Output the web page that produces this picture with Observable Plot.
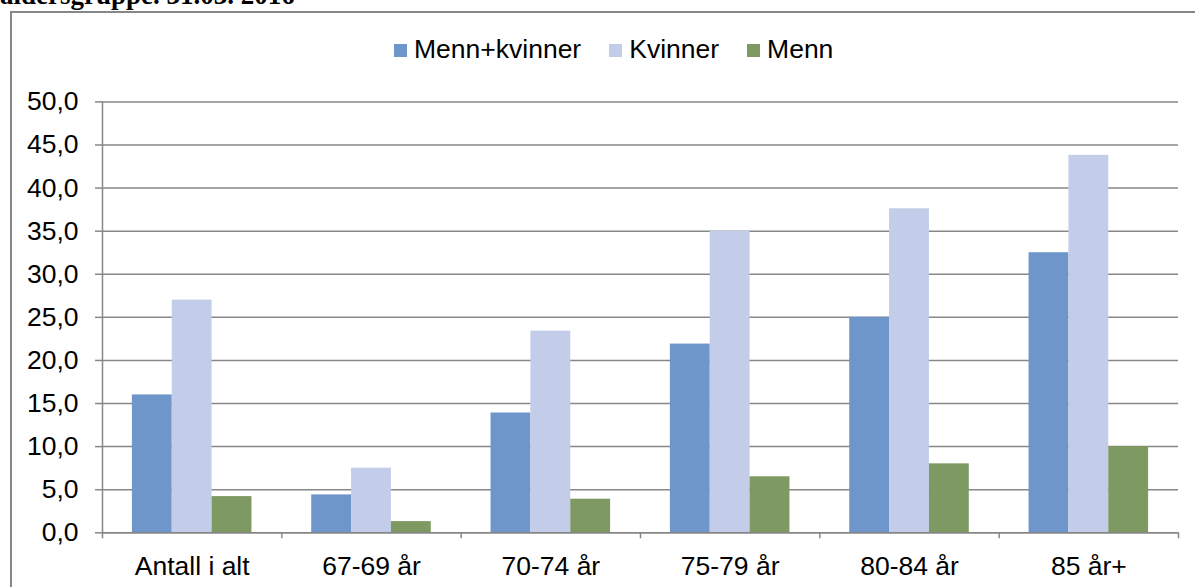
<!DOCTYPE html>
<html>
<head>
<meta charset="utf-8">
<script src="https://cdn.jsdelivr.net/npm/d3@7"></script>
<script src="https://cdn.jsdelivr.net/npm/@observablehq/plot@0.6"></script>
<style>
  html, body { margin: 0; padding: 0; background: #fff; overflow: hidden; }
  #page { position: relative; width: 1195px; height: 587px; overflow: hidden; background: #fff; }
  #title { position: absolute; left: 0; top: -18px; font: bold 27px "Liberation Serif", "Times New Roman", serif; line-height: 27px; color: #000; white-space: nowrap; }
  #frame { position: absolute; left: 10px; top: 11px; width: 1220px; height: 620px; border: 2px solid #878787; box-sizing: border-box; z-index: 3; pointer-events: none; }
  #legend { position: absolute; left: 394px; top: 36px; display: flex; align-items: center; font: 26.5px "Liberation Sans", Arial, sans-serif; line-height: 26.5px; color: #000; z-index: 2; }
  #legend .item { display: flex; align-items: center; margin-right: 28px; }
  #legend .sw { width: 13px; height: 13px; margin-right: 7px; display: inline-block; position: relative; top: 1px; }
  #chart { position: absolute; left: 0; top: 70px; z-index: 1; }
</style>
</head>
<body>
<div id="page">
  <div id="title">aldersgruppe. 31.03. 2016</div>
  <div id="frame"></div>
  <div id="legend"></div>
  <div id="chart"></div>
</div>
<script>
const categories = ["Antall i alt", "67-69 år", "70-74 år", "75-79 år", "80-84 år", "85 år+"];
const seriesNames = ["Menn+kvinner", "Kvinner", "Menn"];
const mennKvinner = [16.0, 4.4, 13.9, 21.9, 25.0, 32.5];
const kvinner = [27.0, 7.5, 23.4, 35.0, 37.6, 43.8];
const menn = [4.2, 1.3, 3.9, 6.5, 8.0, 10.0];
const yTicks = [0, 5, 10, 15, 20, 25, 30, 35, 40, 45, 50];

const colors = ["#6F96CA", "#C3CDE9", "#7E9961"];
const gridColor = "#878787";

// Excel-style clustered layout: gap width 150% of bar width
const barW = 1 / 4.5;
const groupPad = 0.75 / 4.5;

const seriesValues = [mennKvinner, kvinner, menn];
const rows = [];
categories.forEach((cat, ci) => {
  seriesNames.forEach((s, si) => {
    rows.push({cat, ci, series: s, si, value: seriesValues[si][ci]});
  });
});

const fmt = d => d.toFixed(1).replace(".", ",");

const plot = Plot.plot({
  width: 1195,
  height: 517,
  marginLeft: 102,
  marginRight: 17,
  marginTop: 31.4,
  marginBottom: 54.7,
  style: {fontFamily: "'Liberation Sans', Arial, sans-serif", fontSize: "26.5px", color: "#000", background: "transparent"},
  x: {domain: [0, categories.length]},
  y: {domain: [0, 50]},
  color: {domain: seriesNames, range: colors},
  marks: [
    Plot.gridY(yTicks, {stroke: gridColor, strokeOpacity: 1, strokeWidth: 1.5}),
    Plot.rectY(rows, {
      x1: d => d.ci + groupPad + d.si * barW,
      x2: d => d.ci + groupPad + (d.si + 1) * barW,
      y: "value",
      fill: "series"
    }),
    Plot.ruleX([0], {stroke: gridColor, strokeWidth: 1.5}),
    Plot.ruleY([0], {stroke: gridColor, strokeWidth: 1.5}),
    Plot.axisY({ticks: yTicks, tickSize: 7, tickPadding: 17, tickFormat: fmt, stroke: gridColor, strokeWidth: 1.5, fill: "#000", label: null}),
    Plot.axisX({ticks: d3.range(0, categories.length + 1), tickSize: 6, tickFormat: () => "", stroke: gridColor, strokeWidth: 1.5, label: null}),
    Plot.axisX({ticks: categories.map((c, i) => i + 0.5), tickSize: 0, tickPadding: 23, tickFormat: d => categories[Math.floor(d)], fill: "#000", label: null})
  ]
});
document.getElementById("chart").appendChild(plot);

const legend = document.getElementById("legend");
seriesNames.forEach((s, i) => {
  const item = document.createElement("div");
  item.className = "item";
  const sw = document.createElement("span");
  sw.className = "sw";
  sw.style.background = colors[i];
  const t = document.createElement("span");
  t.textContent = s;
  item.appendChild(sw);
  item.appendChild(t);
  legend.appendChild(item);
});
</script>
</body>
</html>
